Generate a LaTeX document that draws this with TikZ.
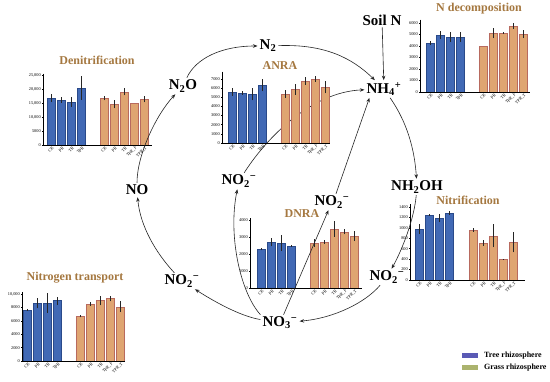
\documentclass[tikz,border=0pt]{standalone}
\usepackage{fontspec}
\setmainfont{Liberation Serif}
\usetikzlibrary{arrows.meta}
\definecolor{treeblue}{HTML}{4169B5}
\definecolor{treeedge}{HTML}{2A4A8A}
\definecolor{grassfill}{HTML}{DFA571}
\definecolor{grassedge}{HTML}{B86A5E}
\definecolor{titlebrown}{HTML}{A57840}
\definecolor{legblue}{HTML}{5A5AB5}
\definecolor{leggreen}{HTML}{ABB36E}
\tikzset{
  species/.style={font=\fontsize{15}{15}\selectfont\bfseries, inner sep=2pt},
  ctitle/.style={font=\fontsize{12}{12}\selectfont\bfseries, text=titlebrown, inner sep=1pt},
  conn/.style={draw=black!85, line width=0.6pt, -{Stealth[length=4.5pt,width=3.5pt]}},
  axisline/.style={line width=0.5pt},
  ytick/.style={font=\fontsize{4.3}{4.5}\selectfont, anchor=east, inner sep=0.6pt},
  xtick/.style={font=\fontsize{4.3}{4.5}\selectfont, anchor=east, rotate=45, inner sep=0.3pt},
  treebar/.style={fill=treeblue, draw=treeedge, line width=0.4pt},
  grassbar/.style={fill=grassfill, draw=grassedge, line width=0.4pt},
  errbar/.style={line width=0.7pt, draw=black!85},
  legtext/.style={font=\fontsize{8}{8}\selectfont\bfseries, anchor=west, inner sep=0pt},
}
% #1 name, #2 origin, #3 px per 1000, #4 ticks, #5 axis top (thousands), #6 x end
\newcommand{\chartaxes}[6]{%
 \begin{scope}[shift={#2}]
  \draw[axisline] (0,{-#5*#3}) -- (0,0) -- (#6,0);
  \foreach \t/\lab [count=\k] in {#4} {
    \draw[axisline] (0,{-\t*#3}) -- (-1.5,{-\t*#3});
    \node[ytick] (#1y\k) at (-1.5,{-\t*#3}) {\lab};
  }
 \end{scope}}
% #1 name, #2 origin, #3 px per 1000, #4 start x, #5 style, #6 data v/e/label
\newcommand{\chartbars}[6]{%
 \begin{scope}[shift={#2}]
  \foreach \v/\e/\lab [count=\i from 0] in {#6} {
    \pgfmathsetmacro{\xl}{#4+10*\i}
    \path[#5] (\xl,0) rectangle ({\xl+8.5},{-\v*#3});
    \draw[errbar] ({\xl+4.25},{-(\v-\e)*#3}) -- ({\xl+4.25},{-(\v+\e)*#3});
    \node[xtick] (#1x\i) at ({\xl+6.5},2) {\lab};
  }
 \end{scope}}
\begin{document}
\begin{tikzpicture}[x=1pt,y=-1pt]
\useasboundingbox[fill=white] (0,0) rectangle (550,382);

% species
\node[species] (n2o)   at (183,86)  {N\textsubscript{2}O};
\node[species] (n2)    at (268,46)  {N\textsubscript{2}};
\node[species] (soil)  at (382,20)  {Soil N};
\node[species] (nh4)   at (384,89)  {NH\textsubscript{4}\textsuperscript{+}};
\node[species] (nh2oh) at (417,187) {NH\textsubscript{2}OH};
\node[species] (no2r)  at (387,277) {NO\textsubscript{2}\textsuperscript{−}};
\node[species] (no3)   at (280,323) {NO\textsubscript{3}\textsuperscript{−}};
\node[species] (no2l)  at (182,281) {NO\textsubscript{2}\textsuperscript{−}};
\node[species] (no)    at (137,190) {NO};
\node[species] (no2c)  at (239,181) {NO\textsubscript{2}\textsuperscript{−}};
\node[species] (no2d)  at (332,202) {NO\textsubscript{2}\textsuperscript{−}};

% connector passing behind the ANRA chart
\draw[conn] (no2c) .. controls (265,140) and (310,92) .. (nh4);

% titles
\node[ctitle] (tden)  at (97,60)   {Denitrification};
\node[ctitle] (tanra) at (280,66)  {ANRA};
\node[ctitle] (tdec)  at (479,9)   {N decomposition};
\node[ctitle] (tnit)  at (468,200) {Nitrification};
\node[ctitle] (tdnra) at (302,214) {DNRA};
\node[ctitle] (ttr)   at (75,278)  {Nitrogen transport};

% Denitrification
\chartbars{den}{(43,145)}{2.8}{4}{treebar}{16.8/1.5/CK,16.0/1.0/PR,15.4/1.8/TR,20.4/4.2/TPR}
\chartbars{deng}{(43,145)}{2.8}{57}{grassbar}{16.7/0.8/CK,14.6/1.5/PR,19.0/1.3/TR,15.0/0/TPR\_F,16.4/1.2/TPR\_T}
\chartaxes{den}{(43,145)}{2.8}{0/0,5/5000,10/{10,000},15/{15,000},20/{20,000},25/{25,000}}{25.5}{109}

% ANRA
\chartbars{anra}{(222,143)}{9.14}{6}{treebar}{5.58/0.4/CK,5.5/0.2/PR,5.35/0.7/TR,6.35/0.7/TPR}
\chartbars{anrag}{(222,143)}{9.14}{59}{grassbar}{5.36/0.4/CK,5.9/0.6/PR,6.78/0.4/TR,7.0/0.3/TPR\_F,6.13/0.7/TPR\_T}
\chartaxes{anra}{(222,143)}{9.14}{0/0,1/1000,2/2000,3/3000,4/4000,5/5000,6/6000,7/7000}{7.8}{108}

% N decomposition
\chartbars{dec}{(420,92)}{11.5}{6}{treebar}{4.26/0.15/CK,4.96/0.35/PR,4.78/0.45/TR,4.78/0.4/TPR}
\chartbars{decg}{(420,92)}{11.5}{59}{grassbar}{4.0/0/CK,5.13/0.45/PR,5.13/0.05/TR,5.74/0.25/TPR\_F,5.04/0.35/TPR\_T}
\chartaxes{dec}{(420,92)}{11.5}{0/0,1/1000,2/2000,3/3000,4/4000,5/5000,6/6000}{6.3}{110}

% Nitrification
\chartbars{nit}{(410,280)}{52.14}{5}{treebar}{0.978/0.1/CK,1.247/0.02/PR,1.19/0.08/TR,1.285/0.03/TPR}
\chartbars{nitg}{(410,280)}{52.14}{59}{grassbar}{0.96/0.03/CK,0.71/0.05/PR,0.845/0.22/TR,0.40/0.01/TPR\_F,0.73/0.2/TPR\_T}
\chartaxes{nit}{(410,280)}{52.14}{0/0,0.2/200,0.4/400,0.6/600,0.8/800,1.0/1000,1.2/1200,1.4/1400}{1.45}{115}

% DNRA
\chartbars{dnra}{(250,288)}{17}{7}{treebar}{2.29/0.08/CK,2.7/0.25/PR,2.65/0.45/TR,2.47/0.03/TPR}
\chartbars{dnrag}{(250,288)}{17}{60}{grassbar}{2.65/0.25/CK,2.7/0.1/PR,3.47/0.45/TR,3.3/0.15/TPR\_F,3.06/0.3/TPR\_T}
\chartaxes{dnra}{(250,288)}{17}{0/0,1/1000,2/2000,3/3000,4/4000}{4.1}{112}

% Nitrogen transport
\chartbars{tr}{(22,361)}{6.7}{1}{treebar}{7.6/0.1/CK,8.65/0.8/PR,8.7/1.5/TR,9.0/0.6/TPR}
\chartbars{trg}{(22,361)}{6.7}{54}{grassbar}{6.7/0.2/CK,8.5/0.3/PR,9.0/0.7/TR,9.3/0.4/TPR\_F,8.1/0.8/TPR\_T}
\chartaxes{tr}{(22,361)}{6.7}{0/0,2/2000,4/4000,6/6000,8/8000,10/{10,000}}{10.3}{103}

% connectors
\draw[conn] (n2o) .. controls (196,58) and (222,46) .. (n2);
\draw[conn] (n2) .. controls (325,44) and (352,58) .. (nh4);
\draw[conn] (soil) -- (nh4);
\draw[conn] (nh4) .. controls (402,115) and (414,140) .. (nh2oh);
\draw[conn] (nh2oh) .. controls (414,220) and (402,250) .. (no2r);
\draw[conn] (no2r) .. controls (366,302) and (335,318) .. (no3);
\draw[conn] (no3) .. controls (240,316) and (215,302) .. (no2l);
\draw[conn] (no2l) .. controls (155,252) and (140,225) .. (no);
\draw[conn] (no) .. controls (137,155) and (156,115) .. (n2o);
\draw[conn] (no3.north west) .. controls (240,292) and (228,235) .. (no2c);
\draw[conn] (no3) -- (no2d);
\draw[conn] ([xshift=4pt]no2d.north) -- ([xshift=5pt]nh4.south west);

% legend
\node[fill=legblue, minimum width=16pt, minimum height=5pt, inner sep=0pt] (lb) at (470,355.5) {};
\node[legtext] (lbt) at (484,355.5) {Tree rhizosphere};
\node[fill=leggreen, minimum width=16pt, minimum height=5pt, inner sep=0pt] (lg) at (470,367.5) {};
\node[legtext] (lgt) at (484,367.5) {Grass rhizosphere};
\end{tikzpicture}
\end{document}
